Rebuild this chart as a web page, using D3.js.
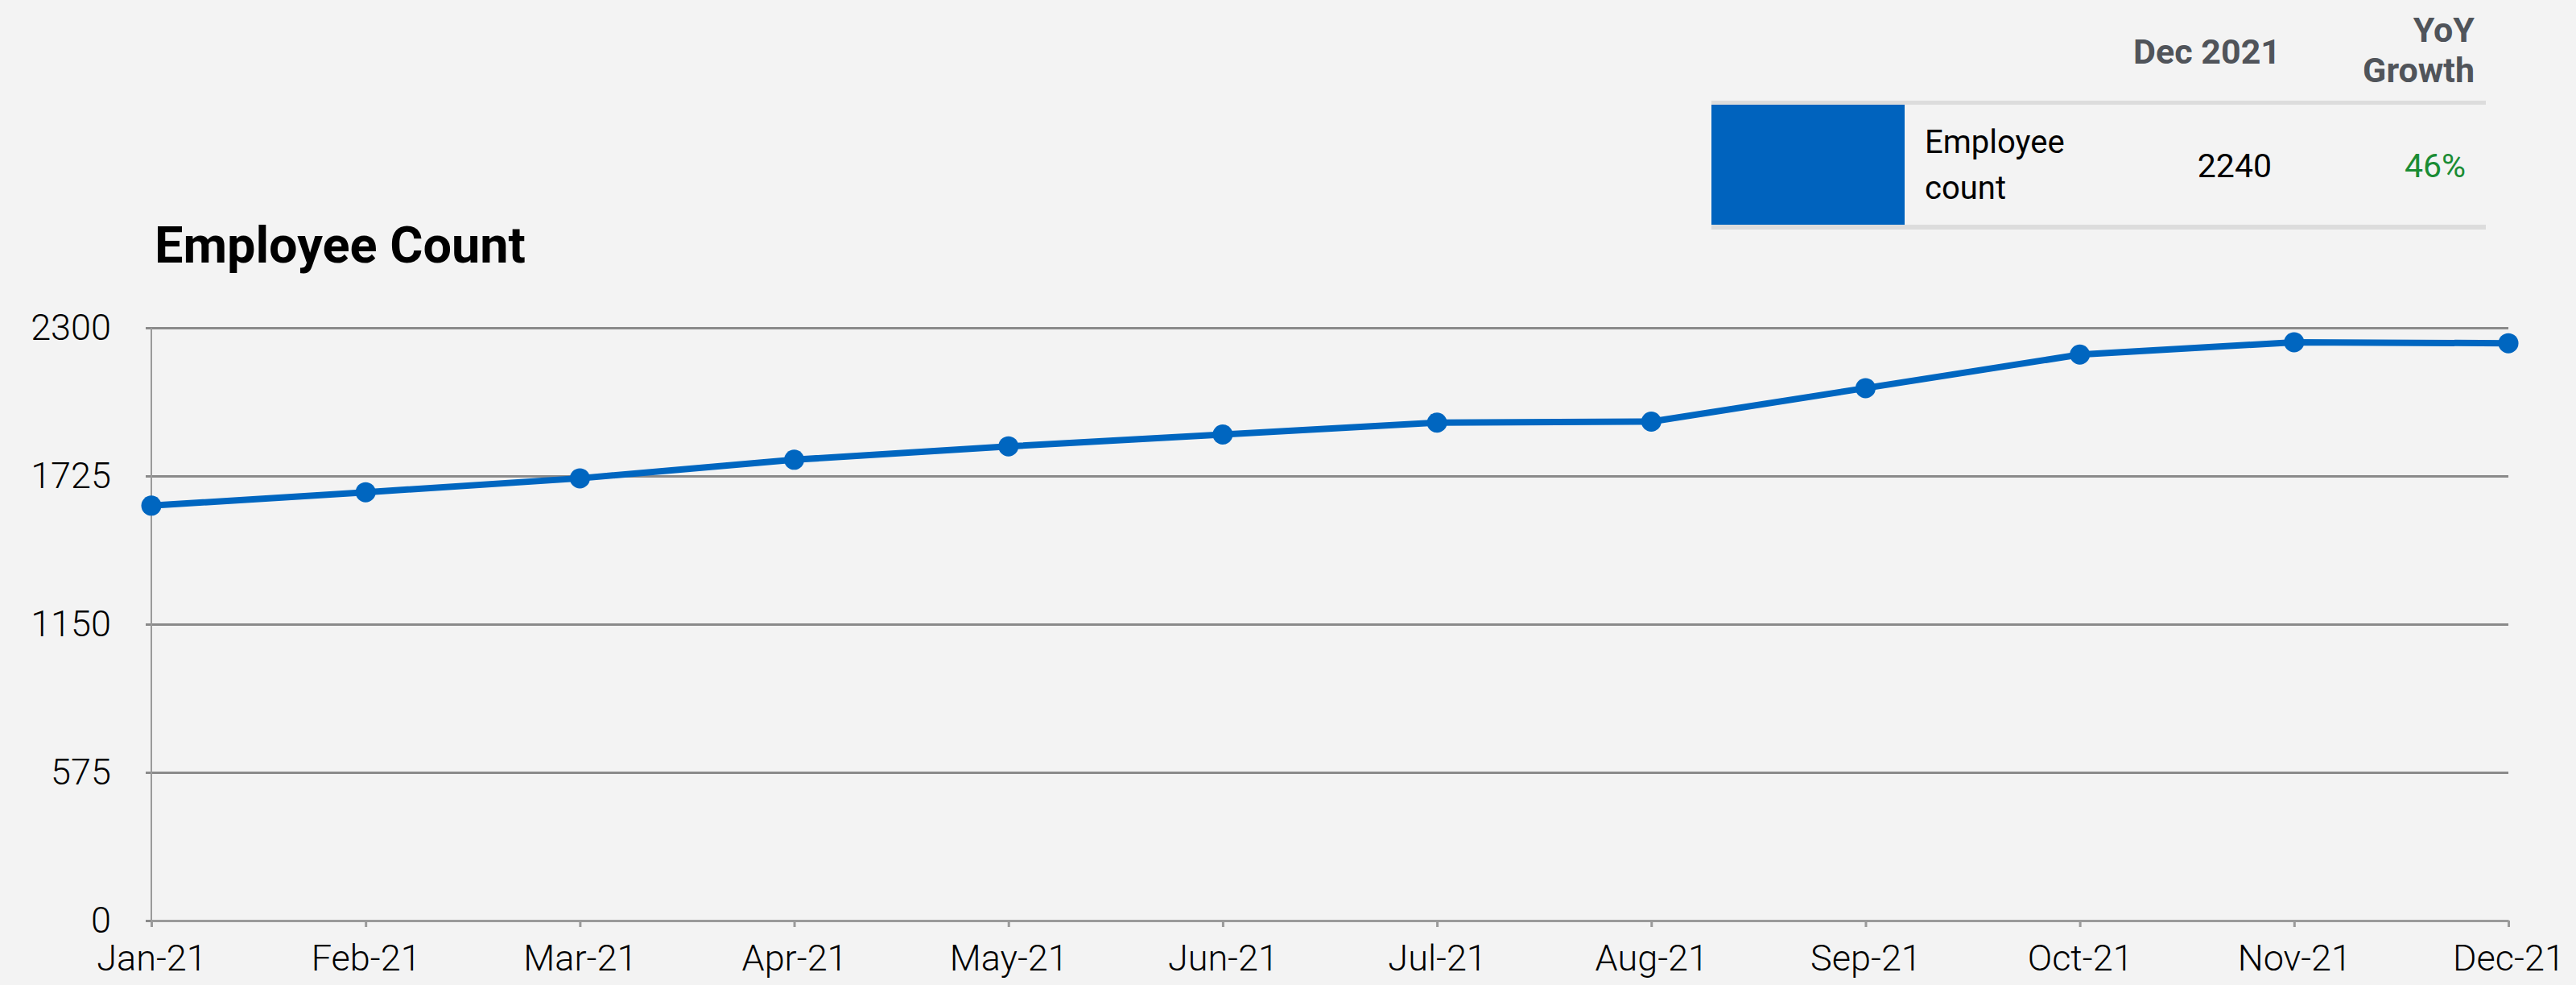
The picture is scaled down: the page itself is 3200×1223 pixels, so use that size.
<!DOCTYPE html>
<html>
<head>
<meta charset="utf-8">
<script src="https://cdn.jsdelivr.net/npm/d3@7"></script>
<style>
  html, body { margin: 0; padding: 0; background: #f3f3f3; }
  svg { display: block; }
</style>
</head>
<body>
<div id="chart"></div>
<script>
// data
const months = ["Jan-21", "Feb-21", "Mar-21", "Apr-21", "May-21", "Jun-21",
                "Jul-21", "Aug-21", "Sep-21", "Oct-21", "Nov-21", "Dec-21"];
const employeeCount = [1610, 1662, 1716, 1788, 1840, 1886, 1932, 1936, 2066, 2196, 2244, 2240];
const yTicks = [0, 575, 1150, 1725, 2300];
const legendHeaders = ["Dec 2021", "YoY|Growth"];
const legendLabel = "Employee|count";
const legendValue = "2240";
const legendGrowth = "46%";

const W = 3200, H = 1223;
const blue = "#0066c0";

let svg = d3.select("#chart")
    .append("svg")
        .attr("width", W)
        .attr("height", H);

svg.append("rect").attr("width", W).attr("height", H).attr("fill", "#f3f3f3");

// scales
let x = d3.scalePoint().domain(months).range([188, 3116]);
let y = d3.scaleLinear().domain([0, 2300]).range([1143, 407]);

// title
svg.append("text")
    .attr("x", 192)
    .attr("y", 326)
    .style("font-family", "Roboto, sans-serif")
    .style("font-weight", 700)
    .style("font-size", "63px")
    .attr("fill", "#000")
    .text("Employee Count");

// y axis with gridlines
let yAxis = svg.append("g")
    .attr("transform", "translate(188,0)")
    .call(d3.axisLeft(y).tickValues(yTicks).tickFormat(d3.format("d"))
        .tickSize(-(3116 - 188)).tickSizeOuter(0).tickPadding(50));
yAxis.select(".domain").remove();
yAxis.selectAll(".tick line")
    .attr("x1", -7)
    .attr("stroke", "#8a8a8a")
    .attr("stroke-width", 3);
yAxis.selectAll(".tick text")
    .style("font-family", "Roboto, sans-serif")
    .style("font-weight", 300)
    .style("font-size", "45px")
    .attr("fill", "#000");

// y axis vertical line
svg.append("line")
    .attr("x1", 188).attr("x2", 188)
    .attr("y1", y(2300)).attr("y2", y(0))
    .attr("stroke", "#9a9a9a")
    .attr("stroke-width", 2);

// x axis
let xAxis = svg.append("g")
    .attr("transform", "translate(0," + y(0) + ")")
    .call(d3.axisBottom(x).tickSize(8).tickSizeOuter(0).tickPadding(22));
xAxis.select(".domain")
    .attr("stroke", "#9a9a9a")
    .attr("stroke-width", 3);
xAxis.selectAll(".tick line")
    .attr("stroke", "#9a9a9a")
    .attr("stroke-width", 3);
xAxis.selectAll(".tick text")
    .style("font-family", "Roboto, sans-serif")
    .style("font-weight", 300)
    .style("font-size", "45px")
    .attr("fill", "#000");

// line
let line = d3.line()
    .x(function (d, i) { return x(months[i]); })
    .y(function (d) { return y(d); });

svg.append("path")
    .datum(employeeCount)
    .attr("d", line)
    .attr("fill", "none")
    .attr("stroke", blue)
    .attr("stroke-width", 8)
    .attr("stroke-linejoin", "round");

svg.selectAll("circle.pt")
    .data(employeeCount)
    .enter()
    .append("circle")
    .attr("class", "pt")
    .attr("cx", function (d, i) { return x(months[i]); })
    .attr("cy", function (d) { return y(d); })
    .attr("r", 12.5)
    .attr("fill", blue);

// legend table (top right)
let lg = svg.append("g");
lg.append("rect")
    .attr("x", 2126).attr("y", 125).attr("width", 3088 - 2126).attr("height", 5)
    .attr("fill", "#dcdcdc");
lg.append("rect")
    .attr("x", 2126).attr("y", 279).attr("width", 3088 - 2126).attr("height", 6)
    .attr("fill", "#dcdcdc");
lg.append("rect")
    .attr("x", 2126).attr("y", 130).attr("width", 240).attr("height", 149)
    .attr("fill", "#0063be");

let hdrStyle = function (t) {
    t.style("font-family", "Roboto, sans-serif")
     .style("font-weight", 700)
     .style("font-size", "43px")
     .attr("fill", "#50545a")
     .attr("text-anchor", "end");
};
lg.append("text").attr("x", 2833).attr("y", 79).call(hdrStyle).text(legendHeaders[0]);
legendHeaders[1].split("|").forEach(function (s, i) {
    lg.append("text").attr("x", 3074).attr("y", 52 + i * 50).call(hdrStyle).text(s);
});

legendLabel.split("|").forEach(function (s, i) {
    lg.append("text")
        .attr("x", 2391).attr("y", 190 + i * 57)
        .style("font-family", "Roboto, sans-serif")
        .style("font-size", "40px")
        .attr("fill", "#000")
        .text(s);
});
lg.append("text")
    .attr("x", 2822).attr("y", 220)
    .attr("text-anchor", "end")
    .style("font-family", "Roboto, sans-serif")
    .style("font-size", "41px")
    .attr("fill", "#000")
    .text(legendValue);
lg.append("text")
    .attr("x", 3063).attr("y", 220)
    .attr("text-anchor", "end")
    .style("font-family", "Roboto, sans-serif")
    .style("font-size", "41px")
    .attr("fill", "#1a8c34")
    .text(legendGrowth);
</script>
</body>
</html>
